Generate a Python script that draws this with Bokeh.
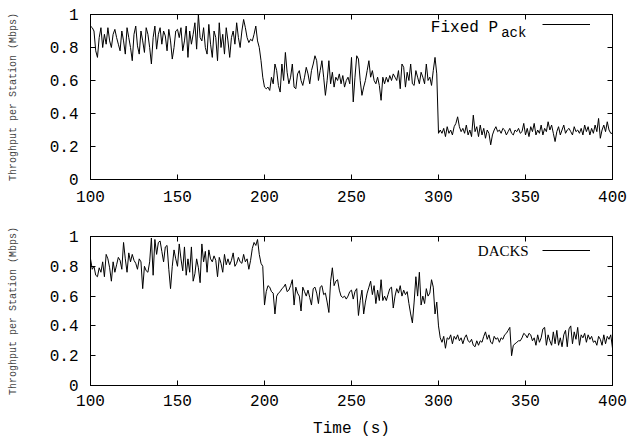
from bokeh.plotting import figure
from bokeh.layouts import column
from bokeh.models import (LinearAxis, FixedTicker, CustomJSTickFormatter, Range1d,
                          Label, Legend, LegendItem, CustomLabelingPolicy)
from bokeh.embed import file_html
from bokeh.resources import INLINE

time = list(range(100, 401))

fixed_pack = [
    0.93, 0.92, 0.90, 0.78, 0.74, 0.86, 0.92, 0.80, 0.88, 0.82,
    0.92, 0.84, 0.80, 0.88, 0.91, 0.86, 0.82, 0.78, 0.90, 0.84,
    0.76, 0.92, 0.86, 0.80, 0.72, 0.88, 0.93, 0.81, 0.76, 0.90,
    0.84, 0.77, 0.92, 0.88, 0.80, 0.70, 0.86, 0.93, 0.79, 0.88,
    0.92, 0.82, 0.90, 0.87, 0.78, 0.91, 0.84, 0.73, 0.80, 0.90,
    0.91, 0.86, 0.92, 0.78, 0.84, 0.93, 0.74, 0.90, 0.82, 0.88,
    0.95, 0.79, 1.00, 0.86, 0.84, 0.92, 0.80, 0.76, 0.94, 0.82,
    0.74, 0.90, 0.86, 0.72, 0.95, 0.80, 0.88, 0.76, 0.92, 0.84,
    0.74, 0.86, 0.90, 0.82, 0.95, 0.86, 0.80, 0.90, 0.97, 0.92,
    0.86, 0.83, 0.85, 0.84, 0.88, 0.93, 0.84, 0.80, 0.72, 0.62,
    0.56, 0.55, 0.56, 0.54, 0.62, 0.58, 0.70, 0.66, 0.57, 0.53,
    0.70, 0.60, 0.77, 0.65, 0.58, 0.62, 0.70, 0.56, 0.55, 0.64,
    0.66, 0.60, 0.57, 0.62, 0.68, 0.64, 0.58, 0.66, 0.70, 0.75,
    0.72, 0.60, 0.66, 0.72, 0.62, 0.51, 0.60, 0.72, 0.58, 0.65,
    0.56, 0.62, 0.60, 0.64, 0.58, 0.63, 0.56, 0.60, 0.62, 0.58,
    0.74, 0.47, 0.62, 0.75, 0.73, 0.60, 0.51, 0.56, 0.60, 0.66,
    0.72, 0.62, 0.66, 0.60, 0.58, 0.62, 0.57, 0.48, 0.62, 0.58,
    0.62, 0.59, 0.63, 0.60, 0.64, 0.62, 0.60, 0.66, 0.55, 0.70,
    0.68, 0.56, 0.65, 0.60, 0.70, 0.58, 0.57, 0.66, 0.62, 0.58,
    0.65, 0.62, 0.58, 0.70, 0.60, 0.62, 0.57, 0.66, 0.74, 0.64,
    0.28, 0.30, 0.28, 0.31, 0.26, 0.32, 0.28, 0.30, 0.27, 0.32,
    0.34, 0.38, 0.32, 0.29, 0.31, 0.28, 0.33, 0.27, 0.30, 0.26,
    0.39, 0.29, 0.32, 0.26, 0.33, 0.27, 0.31, 0.25, 0.30, 0.28,
    0.21, 0.27, 0.30, 0.32, 0.29, 0.30, 0.28, 0.31, 0.30, 0.27,
    0.29, 0.31, 0.28, 0.27, 0.30, 0.29, 0.31, 0.28, 0.29, 0.34,
    0.27, 0.31, 0.26, 0.32, 0.29, 0.34, 0.27, 0.30, 0.28, 0.33,
    0.27, 0.31, 0.29, 0.35, 0.30, 0.33, 0.28, 0.23, 0.29, 0.32,
    0.27, 0.30, 0.33, 0.28, 0.30, 0.31, 0.29, 0.27, 0.32, 0.29,
    0.30, 0.28, 0.31, 0.27, 0.33, 0.29, 0.32, 0.27, 0.31, 0.28,
    0.33, 0.29, 0.37, 0.25, 0.30, 0.33, 0.29, 0.35, 0.30, 0.28,
    0.28,
]

dacks = [
    0.85, 0.78, 0.80, 0.74, 0.73, 0.79, 0.76, 0.83, 0.73, 0.88,
    0.85, 0.79, 0.70, 0.83, 0.76, 0.81, 0.86, 0.84, 0.78, 0.96,
    0.85, 0.76, 0.89, 0.83, 0.88, 0.84, 0.82, 0.78, 0.85, 0.83,
    0.65, 0.80, 0.77, 0.76, 0.83, 0.99, 0.74, 0.98, 0.88, 0.96,
    0.97, 0.90, 0.83, 0.93, 0.94, 0.78, 0.65, 0.80, 0.91, 0.85,
    0.80, 0.95, 0.85, 0.77, 0.93, 0.74, 0.85, 0.76, 0.93, 0.70,
    0.75, 0.85, 0.79, 0.69, 0.95, 0.83, 0.90, 0.76, 0.91, 0.85,
    0.83, 0.87, 0.84, 0.73, 0.86, 0.82, 0.76, 0.88, 0.81, 0.85,
    0.81, 0.84, 0.89, 0.80, 0.82, 0.86, 0.83, 0.82, 0.88, 0.83,
    0.85, 0.78, 0.84, 0.92, 0.96, 0.94, 0.98, 0.88, 0.82, 0.80,
    0.54, 0.63, 0.67, 0.66, 0.63, 0.62, 0.48, 0.60, 0.62, 0.63,
    0.65, 0.66, 0.68, 0.63, 0.64, 0.67, 0.71, 0.54, 0.66, 0.62,
    0.60, 0.50, 0.66, 0.63, 0.60, 0.64, 0.59, 0.54, 0.65, 0.66,
    0.62, 0.55, 0.66, 0.67, 0.61, 0.62, 0.56, 0.49, 0.70, 0.79,
    0.67, 0.70, 0.71, 0.64, 0.60, 0.59, 0.60, 0.58, 0.60, 0.63,
    0.64, 0.58, 0.63, 0.65, 0.47, 0.57, 0.64, 0.48, 0.56, 0.62,
    0.66, 0.70, 0.61, 0.67, 0.55, 0.64, 0.57, 0.71, 0.57, 0.60,
    0.57, 0.61, 0.65, 0.66, 0.52, 0.60, 0.65, 0.62, 0.67, 0.60,
    0.64, 0.61, 0.63, 0.55, 0.48, 0.42, 0.56, 0.73, 0.60, 0.76,
    0.54, 0.60, 0.55, 0.65, 0.60, 0.62, 0.71, 0.66, 0.48, 0.56,
    0.40, 0.32, 0.29, 0.33, 0.25, 0.32, 0.31, 0.34, 0.28, 0.33,
    0.31, 0.34, 0.30, 0.32, 0.28, 0.32, 0.34, 0.30, 0.29, 0.31,
    0.27, 0.26, 0.30, 0.27, 0.30, 0.29, 0.33, 0.36, 0.31, 0.34,
    0.29, 0.28, 0.33, 0.31, 0.32, 0.29, 0.32, 0.31, 0.34, 0.35,
    0.37, 0.39, 0.20, 0.27, 0.28, 0.29, 0.30, 0.30, 0.32, 0.35,
    0.34, 0.32, 0.35, 0.34, 0.30, 0.32, 0.27, 0.34, 0.29, 0.32,
    0.38, 0.39, 0.27, 0.34, 0.30, 0.27, 0.36, 0.28, 0.37, 0.27,
    0.32, 0.26, 0.34, 0.37, 0.26, 0.38, 0.40, 0.28, 0.36, 0.31,
    0.39, 0.27, 0.34, 0.32, 0.35, 0.29, 0.34, 0.31, 0.33, 0.29,
    0.30, 0.27, 0.33, 0.31, 0.27, 0.34, 0.28, 0.33, 0.31, 0.34,
    0.25,
]

x_ticks = [100, 150, 200, 250, 300, 350, 400]
y_ticks = [0, 0.2, 0.4, 0.6, 0.8, 1.0]
y_title = "Throghput per Station (Mbps)"
x_title = "Time (s)"

MONO = "Liberation Mono"

y_fmt_code = """
if (Math.abs(tick) < 1e-9) return "0";
if (Math.abs(tick - 1) < 1e-9) return "1";
return tick.toFixed(1);
"""

no_labels_code = """
for (const i of indices) { indices.unset(i) }
return indices
"""


def make_fig(values, height, border_top, border_bottom, show_xtitle,
             legend_y, xlabel_standoff):
    p = figure(width=644, height=height, output_backend="svg",
               toolbar_location=None,
               x_range=Range1d(100, 400), y_range=Range1d(0, 1),
               min_border_left=90, min_border_right=31,
               min_border_top=border_top, min_border_bottom=border_bottom,
               background_fill_color="white", border_fill_color="white")
    p.grid.visible = False
    p.outline_line_color = "black"
    p.outline_line_width = 1
    r = p.line(time, values, line_color="black", line_width=1)

    p.add_layout(LinearAxis(major_label_policy=CustomLabelingPolicy(code=no_labels_code),
                            major_label_standoff=0), "right")
    p.add_layout(LinearAxis(major_label_policy=CustomLabelingPolicy(code=no_labels_code),
                            major_label_standoff=0), "above")

    for ax in p.xaxis:
        ax.ticker = FixedTicker(ticks=x_ticks)
    for ax in p.yaxis:
        ax.ticker = FixedTicker(ticks=y_ticks)
        ax.formatter = CustomJSTickFormatter(code=y_fmt_code)
    for ax in p.axis:
        ax.major_tick_in = 5
        ax.major_tick_out = 0
        ax.minor_tick_line_color = None
        ax.axis_line_color = "black"
        ax.major_tick_line_color = "black"
        ax.major_label_text_font = MONO
        ax.major_label_text_font_size = "16px"
        ax.major_label_text_color = "black"

    bx = p.below[0]
    bx.major_label_standoff = xlabel_standoff
    if show_xtitle:
        bx.axis_label = x_title
        bx.axis_label_text_font = MONO
        bx.axis_label_text_font_size = "16px"
        bx.axis_label_text_font_style = "normal"
        bx.axis_label_text_color = "black"
        bx.axis_label_standoff = 11

    ly = p.left[0]
    ly.major_label_standoff = 12
    ly.axis_label = y_title
    ly.axis_label_text_font = MONO
    ly.axis_label_text_font_size = "10px"
    ly.axis_label_text_font_style = "normal"
    ly.axis_label_text_color = "#444444"
    ly.axis_label_standoff = 28

    leg = Legend(items=[LegendItem(label=" ", renderers=[r])],
                 location=(452, legend_y),
                 background_fill_alpha=0, border_line_alpha=0,
                 padding=0, margin=0, spacing=0,
                 glyph_width=48, glyph_height=16,
                 label_width=0, label_height=16, label_standoff=0,
                 label_text_font_size="10px")
    p.add_layout(leg)
    return p


top = make_fig(fixed_pack, 221, 10, 42, False, 147, 11)
top.add_layout(Label(x=295.6, y=0.917, text="Fixed P", text_font=MONO,
                     text_font_size="16px", text_baseline="middle",
                     text_color="black"))
top.add_layout(Label(x=336.0, y=0.885, text="ack", text_font=MONO,
                     text_font_size="14px", text_baseline="middle",
                     text_color="black"))

bottom = make_fig(dacks, 222, 15, 58, True, 127, 9)
bottom.add_layout(Label(x=322.6, y=0.906, text="DACKS",
                        text_font="Liberation Serif", text_font_size="15px",
                        text_baseline="middle", text_color="black"))

layout = column(top, bottom, spacing=0)

with open("out.html", "w") as f:
    f.write(file_html(layout, INLINE))
